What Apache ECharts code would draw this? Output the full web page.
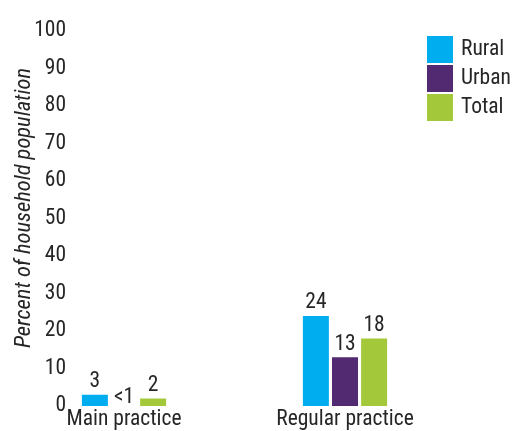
<!DOCTYPE html>
<html><head><meta charset="utf-8">
<script src="https://cdn.jsdelivr.net/npm/echarts@6/dist/echarts.min.js"></script>
<style>html,body{margin:0;padding:0;background:#fff}#c{width:513px;height:431px}</style>
</head><body><div id="c"></div>
<script>
var categories = ['Main practice', 'Regular practice'];
var seriesNames = ['Rural', 'Urban', 'Total'];
var rural = [3, 24];
var urban = [0, 13];
var total = [2, 18];
var ruralLabels = ['3', '24'];
var urbanLabels = ['<1', '13'];
var totalLabels = ['2', '18'];
var yTicks = [0, 10, 20, 30, 40, 50, 60, 70, 80, 90, 100];
var yTitle = 'Percent of household population';

var FONT = 'Roboto, sans-serif';
var W = 'condensed';
var FS = 21.5;
var TXT = '#262626';
var colors = ['#00AEEF', '#522A72', '#A3C83A'];

function makeData(vals, labels) {
  return vals.map(function (v, i) {
    var item = { value: v, label: { formatter: labels[i] } };
    if (labels[i] === '<1') item.label.offset = [0, 5];
    return item;
  });
}
var allVals = [rural, urban, total];
var allLabels = [ruralLabels, urbanLabels, totalLabels];

var chart = echarts.init(document.getElementById('c'), null, { renderer: 'canvas' });
chart.setOption({
  animation: false,
  color: colors,
  textStyle: { fontFamily: FONT },
  grid: { left: 13.5, right: 57.5, top: 31, bottom: 25 },
  legend: {
    orient: 'vertical', left: 427, top: 36, padding: 0,
    itemWidth: 26, itemHeight: 27, itemGap: 2,
    icon: 'rect',
    data: seriesNames,
    textStyle: { fontFamily: FONT, fontWeight: W, fontSize: FS, color: TXT, padding: [0, 0, 0, 3] }
  },
  xAxis: {
    type: 'category', data: categories,
    axisLine: { show: false }, axisTick: { show: false },
    axisLabel: { fontFamily: FONT, fontWeight: W, fontSize: FS, color: TXT, margin: 3 }
  },
  yAxis: {
    type: 'value', min: yTicks[0], max: yTicks[yTicks.length - 1], interval: 10,
    splitLine: { show: false }, axisLine: { show: false }, axisTick: { show: false },
    axisLabel: { fontFamily: FONT, fontWeight: W, fontSize: FS, color: TXT, margin: -52.5, padding: [0, 0, 12, 0] }
  },
  graphic: [{
    type: 'text', x: 24, y: 208, rotation: Math.PI / 2,
    style: { text: yTitle, fontFamily: FONT, fontStyle: 'italic', fontWeight: W, fontSize: 22.5, fill: TXT, align: 'center', verticalAlign: 'middle' }
  }],
  series: seriesNames.map(function (n, k) {
    return {
      name: n, type: 'bar', barWidth: 26, barGap: '12%',
      data: makeData(allVals[k], allLabels[k]),
      label: { show: true, position: 'top', distance: 2, fontFamily: FONT, fontWeight: W, fontSize: FS, color: TXT }
    };
  })
});
</script></body></html>
